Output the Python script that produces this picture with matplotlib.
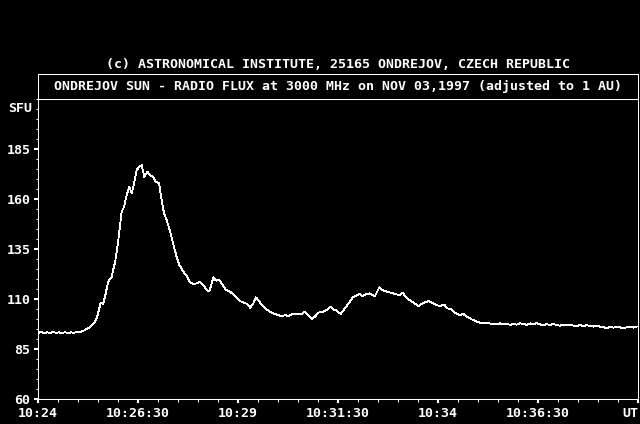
import matplotlib
matplotlib.use("Agg")
import matplotlib.pyplot as plt
from matplotlib.ticker import FixedLocator, MultipleLocator

# seconds after 10:24:00 UT
t_sec = [0, 4.5, 9, 13.5, 18, 22.5, 27, 31.5, 36, 40.5, 45, 49.5, 54, 58.5, 63, 67.5,
         70.5, 75, 78, 82.5, 85.5, 88.5, 91.5, 93, 94.5, 97.5, 100.5, 103.5, 105.5, 108,
         110.5, 112.5, 115.5, 120.5, 125.5, 129, 133, 137, 140.5, 143, 148, 152, 155.5,
         159.5, 164, 168, 173, 176.5, 181.5, 185.5, 189, 193, 199, 204, 208, 212, 218,
         224, 228, 233, 238, 243, 248, 253, 257, 263, 267, 272, 277, 282, 288, 294, 298,
         303, 308, 314, 318, 323, 327, 332, 337, 343, 348, 353, 360.5, 365.5, 370.5,
         375.5, 380.5, 388, 395.5, 400.5, 405.5, 410.5, 415.5, 420.5, 428, 433, 438, 443,
         448, 454, 459, 464, 468, 472, 477, 482, 487, 492, 497, 501, 505.5, 512, 518, 523,
         529, 533, 538, 542, 547, 552, 557, 563, 570.5, 575.5, 580.5, 585.5, 590.5, 597,
         603, 609, 614, 620.5, 625.5, 632, 638, 643, 650.5, 658, 665.5, 673, 680.5, 688,
         693, 698, 703, 708, 713, 718, 723, 728, 733, 738, 743, 748, 753, 758, 763, 768,
         773, 778, 783, 788, 793, 798, 803, 808, 813, 818, 823, 828, 833, 838, 843, 848,
         853, 858, 863, 868, 873, 878, 883, 888, 893, 898]
flux = [93.0, 93.6, 92.8, 93.4, 92.9, 93.5, 93.1, 93.3, 92.9, 93.4, 93.0, 93.3, 93.1, 93.6,
        93.4, 94.0, 94.5, 95.3, 96.0, 97.3, 98.7, 101.0, 104.5, 107.0, 108.2, 107.5, 111.0,
        116.0, 118.7, 120.0, 121.0, 124.5, 128.0, 139.5, 153.7, 156.0, 162.0, 166.0, 163.0,
        166.0, 174.5, 176.0, 177.0, 171.0, 173.7, 172.0, 171.0, 168.7, 168.0, 159.5, 152.8,
        149.5, 142.8, 136.0, 131.0, 127.0, 123.7, 121.0, 118.5, 117.5, 117.8, 118.7, 117.0,
        114.5, 113.7, 120.8, 119.2, 119.5, 117.0, 114.5, 113.7, 112.0, 110.8, 109.0, 108.2,
        107.5, 105.7, 107.8, 110.8, 108.7, 106.5, 104.8, 103.7, 102.8, 102.0, 101.2, 102.0,
        101.5, 102.3, 102.5, 102.3, 103.7, 102.0, 100.0, 101.2, 103.2, 103.7, 104.5, 106.2,
        104.8, 104.2, 102.5, 104.8, 107.0, 108.7, 110.8, 111.5, 112.5, 111.5, 112.5, 112.8,
        112.0, 111.5, 115.8, 114.2, 113.7, 113.2, 112.8, 112.3, 112.0, 113.2, 110.8, 109.5,
        108.2, 106.5, 107.5, 108.3, 109.0, 108.3, 107.0, 106.5, 107.3, 105.3, 104.8, 103.2,
        102.0, 102.5, 101.2, 99.8, 98.7, 97.8, 98.2, 97.5, 97.3, 97.9, 97.3, 97.8, 97.0,
        97.6, 97.2, 97.9, 97.5, 97.1, 97.8, 97.4, 97.9, 97.3, 96.8, 97.4, 97.0, 97.5, 97.0,
        96.6, 97.2, 96.7, 97.3, 96.7, 96.4, 97.0, 96.5, 96.9, 96.5, 96.2, 96.8, 96.2, 95.9,
        95.3, 96.0, 95.7, 96.1, 95.8, 95.5, 95.8, 96.0, 95.7, 96.2]

xticks = [0, 150, 300, 450, 600, 750, 900]
xlabels = ["10:24", "10:26:30", "10:29", "10:31:30", "10:34", "10:36:30", "UT"]
yticks = [60, 85, 110, 135, 160, 185]

title_top = "(c) ASTRONOMICAL INSTITUTE, 25165 ONDREJOV, CZECH REPUBLIC"
title_box = "ONDREJOV SUN - RADIO FLUX at 3000 MHz on NOV 03,1997 (adjusted to 1 AU)"

W, H = 640, 424
font = dict(family="DejaVu Sans Mono", weight="bold", size=9.5, color="white")

fig = plt.figure(figsize=(6.4, 4.24), dpi=100, facecolor="black")
ax = fig.add_axes([38 / W, (H - 399) / H, 600 / W, 300 / H], facecolor="black")

# 1 px trace, no smoothing, like the original bitmap
ax.plot(t_sec, flux, color="white", linewidth=0.6, antialiased=False)
ax.set_xlim(0, 900)
ax.set_ylim(60, 210)

# ticks
ax.xaxis.set_major_locator(FixedLocator(xticks))
ax.xaxis.set_minor_locator(MultipleLocator(30))
ax.yaxis.set_major_locator(FixedLocator(yticks))
ax.yaxis.set_minor_locator(MultipleLocator(5))
ax.set_xticklabels(xlabels, fontdict=font)
ax.set_yticklabels([str(v) for v in yticks], fontdict=font)
ax.get_xticklabels()[-1].set_horizontalalignment("right")

ax.tick_params(axis="both", which="major", colors="white", length=3, width=1.5, pad=2.5)
ax.tick_params(axis="x", which="minor", colors="white", length=2, width=0.75, top=True,
               direction="out")
ax.tick_params(axis="y", which="minor", colors="white", length=1.2, width=0.75)
for s in ax.spines.values():
    s.set_color("white")
    s.set_linewidth(0.75)

ax.text(-0.01, 0.97, "SFU", transform=ax.transAxes, ha="right", va="center", **font)

# header box
box = fig.add_axes([38 / W, (H - 99) / H, 600 / W, 25 / H], facecolor="black")
box.set_xticks([])
box.set_yticks([])
for s in box.spines.values():
    s.set_color("white")
    s.set_linewidth(0.75)
box.text(0.5, 0.5, title_box, ha="center", va="center", transform=box.transAxes, **font)

fig.text(338 / W, 1 - 64 / H, title_top, ha="center", va="center", **font)

fig.savefig("out.png", dpi=100, facecolor="black")
